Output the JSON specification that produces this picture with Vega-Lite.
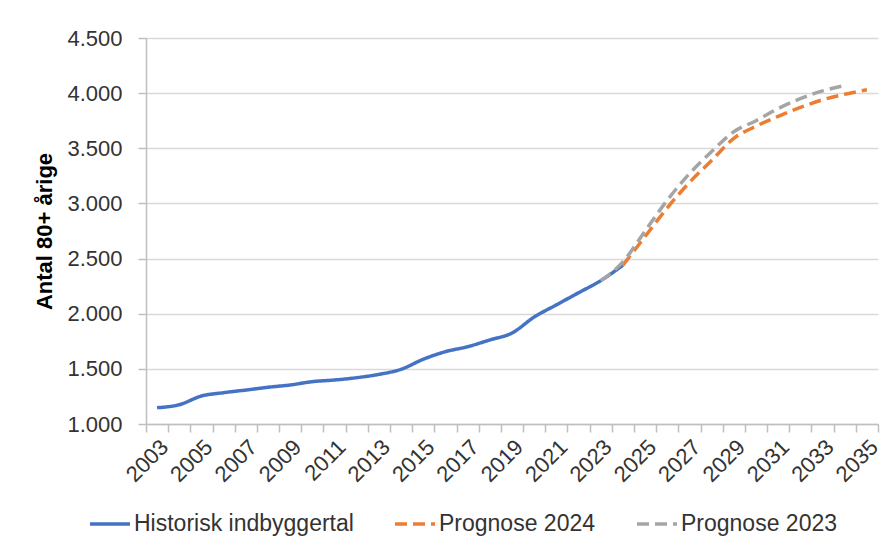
{
  "$schema": "https://vega.github.io/schema/vega-lite/v6.json",
  "width": 732,
  "height": 386,
  "autosize": {"type": "none"},
  "padding": {"left": 146, "top": 38, "right": 15, "bottom": 126},
  "background": "white",
  "config": {"font": "Liberation Sans", "view": {"stroke": null}},
  "data": {
    "values": [
      {"year": 2003, "value": 1148, "serie": "Historisk indbyggertal"},
      {"year": 2004, "value": 1175, "serie": "Historisk indbyggertal"},
      {"year": 2005, "value": 1254, "serie": "Historisk indbyggertal"},
      {"year": 2006, "value": 1284, "serie": "Historisk indbyggertal"},
      {"year": 2007, "value": 1308, "serie": "Historisk indbyggertal"},
      {"year": 2008, "value": 1333, "serie": "Historisk indbyggertal"},
      {"year": 2009, "value": 1354, "serie": "Historisk indbyggertal"},
      {"year": 2010, "value": 1384, "serie": "Historisk indbyggertal"},
      {"year": 2011, "value": 1399, "serie": "Historisk indbyggertal"},
      {"year": 2012, "value": 1420, "serie": "Historisk indbyggertal"},
      {"year": 2013, "value": 1450, "serie": "Historisk indbyggertal"},
      {"year": 2014, "value": 1496, "serie": "Historisk indbyggertal"},
      {"year": 2015, "value": 1587, "serie": "Historisk indbyggertal"},
      {"year": 2016, "value": 1656, "serie": "Historisk indbyggertal"},
      {"year": 2017, "value": 1701, "serie": "Historisk indbyggertal"},
      {"year": 2018, "value": 1762, "serie": "Historisk indbyggertal"},
      {"year": 2019, "value": 1825, "serie": "Historisk indbyggertal"},
      {"year": 2020, "value": 1970, "serie": "Historisk indbyggertal"},
      {"year": 2021, "value": 2080, "serie": "Historisk indbyggertal"},
      {"year": 2022, "value": 2190, "serie": "Historisk indbyggertal"},
      {"year": 2023, "value": 2300, "serie": "Historisk indbyggertal"},
      {"year": 2024, "value": 2440, "serie": "Historisk indbyggertal"},
      {"year": 2024, "value": 2440, "serie": "Prognose 2024"},
      {"year": 2025, "value": 2700, "serie": "Prognose 2024"},
      {"year": 2026, "value": 2960, "serie": "Prognose 2024"},
      {"year": 2027, "value": 3190, "serie": "Prognose 2024"},
      {"year": 2028, "value": 3390, "serie": "Prognose 2024"},
      {"year": 2029, "value": 3590, "serie": "Prognose 2024"},
      {"year": 2030, "value": 3700, "serie": "Prognose 2024"},
      {"year": 2031, "value": 3790, "serie": "Prognose 2024"},
      {"year": 2032, "value": 3870, "serie": "Prognose 2024"},
      {"year": 2033, "value": 3940, "serie": "Prognose 2024"},
      {"year": 2034, "value": 3990, "serie": "Prognose 2024"},
      {"year": 2035, "value": 4030, "serie": "Prognose 2024"},
      {"year": 2023, "value": 2300, "serie": "Prognose 2023"},
      {"year": 2024, "value": 2470, "serie": "Prognose 2023"},
      {"year": 2025, "value": 2750, "serie": "Prognose 2023"},
      {"year": 2026, "value": 3030, "serie": "Prognose 2023"},
      {"year": 2027, "value": 3270, "serie": "Prognose 2023"},
      {"year": 2028, "value": 3470, "serie": "Prognose 2023"},
      {"year": 2029, "value": 3650, "serie": "Prognose 2023"},
      {"year": 2030, "value": 3750, "serie": "Prognose 2023"},
      {"year": 2031, "value": 3860, "serie": "Prognose 2023"},
      {"year": 2032, "value": 3950, "serie": "Prognose 2023"},
      {"year": 2033, "value": 4020, "serie": "Prognose 2023"},
      {"year": 2034, "value": 4070, "serie": "Prognose 2023"}
    ]
  },
  "mark": {"type": "line", "strokeWidth": 3.5, "strokeCap": "butt", "interpolate": "monotone"},
  "encoding": {
    "x": {
      "field": "year",
      "type": "quantitative",
      "scale": {"domain": [2002.5, 2035.5], "nice": false, "zero": false},
      "axis": {
        "title": null,
        "grid": false,
        "values": [2002.5, 2003, 2003.5, 2004.5, 2005, 2005.5, 2006.5, 2007, 2007.5, 2008.5, 2009, 2009.5, 2010.5, 2011, 2011.5, 2012.5, 2013, 2013.5, 2014.5, 2015, 2015.5, 2016.5, 2017, 2017.5, 2018.5, 2019, 2019.5, 2020.5, 2021, 2021.5, 2022.5, 2023, 2023.5, 2024.5, 2025, 2025.5, 2026.5, 2027, 2027.5, 2028.5, 2029, 2029.5, 2030.5, 2031, 2031.5, 2032.5, 2033, 2033.5, 2034.5, 2035, 2035.5],
        "labelExpr": "datum.value % 1 == 0 ? '' + datum.value : ''",
        "labelAngle": -45,
        "labelFontSize": 22,
        "labelColor": "#333333",
        "labelOverlap": false,
        "labelBound": false,
        "labelPadding": 4,
        "tickSize": 8,
        "tickWidth": 1.5,
        "tickColor": "#BFBFBF",
        "tickOpacity": {"condition": {"test": "datum.value % 1 == 0", "value": 0}, "value": 1},
        "domainColor": "#BFBFBF",
        "domainWidth": 1.5
      }
    },
    "y": {
      "field": "value",
      "type": "quantitative",
      "scale": {"domain": [1000, 4500], "nice": false, "zero": false},
      "axis": {
        "title": "Antal 80+ årige",
        "titleFontSize": 22,
        "titleFontWeight": "bold",
        "titleColor": "#000000",
        "titlePadding": 10,
        "values": [1000, 1500, 2000, 2500, 3000, 3500, 4000, 4500],
        "labelExpr": "replace(format(datum.value, ','), ',', '.')",
        "labelFontSize": 22,
        "labelColor": "#333333",
        "labelPadding": 16,
        "tickSize": 8,
        "tickWidth": 1.5,
        "tickColor": "#BFBFBF",
        "domainColor": "#BFBFBF",
        "domainWidth": 1.5,
        "grid": true,
        "gridColor": "#D9D9D9",
        "gridWidth": 1.5
      }
    },
    "color": {
      "field": "serie",
      "type": "nominal",
      "scale": {
        "domain": ["Historisk indbyggertal", "Prognose 2024", "Prognose 2023"],
        "range": ["#4472C4", "#ED7D31", "#A5A5A5"]
      },
      "legend": {
        "title": null,
        "orient": "none",
        "legendX": -58,
        "legendY": 464,
        "direction": "horizontal",
        "symbolType": "stroke",
        "symbolSize": 1600,
        "symbolStrokeWidth": 3.5,
        "labelFontSize": 23,
        "labelColor": "#333333",
        "labelOffset": 2,
        "labelLimit": 400,
        "columnPadding": 34,
        "padding": 0
      }
    },
    "strokeDash": {
      "field": "serie",
      "type": "nominal",
      "scale": {
        "domain": ["Historisk indbyggertal", "Prognose 2024", "Prognose 2023"],
        "range": [[1, 0], [12, 6], [12, 6]]
      },
      "legend": {
        "title": null,
        "orient": "none",
        "legendX": -58,
        "legendY": 464,
        "direction": "horizontal",
        "symbolType": "stroke",
        "symbolSize": 1600,
        "symbolStrokeWidth": 3.5,
        "labelFontSize": 23,
        "labelColor": "#333333",
        "labelOffset": 2,
        "labelLimit": 400,
        "columnPadding": 34,
        "padding": 0
      }
    }
  }
}
